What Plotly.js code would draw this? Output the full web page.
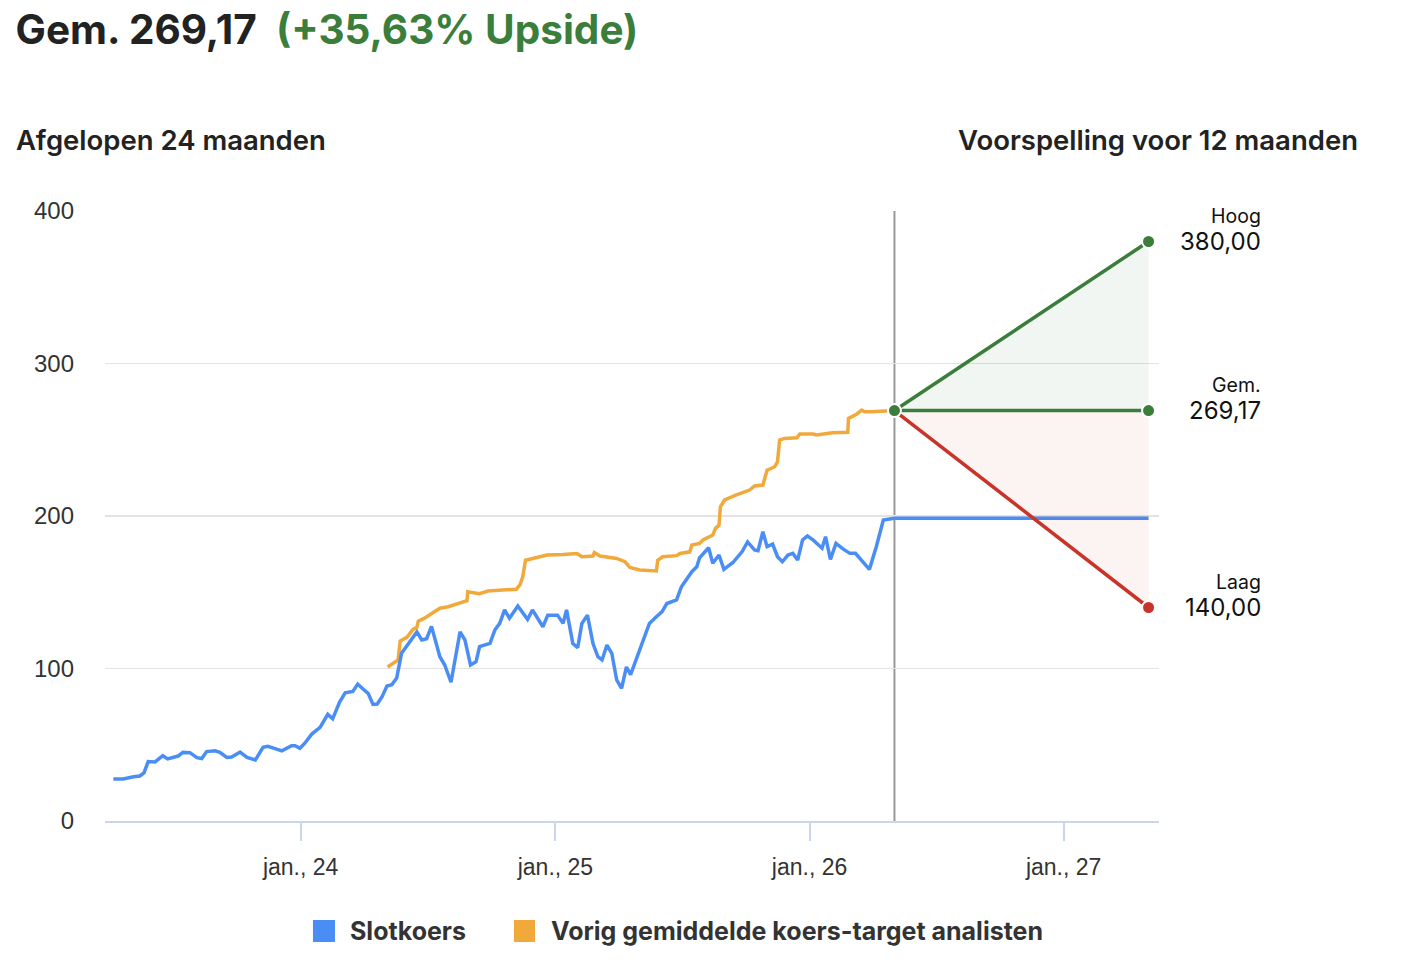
<!DOCTYPE html>
<html>
<head>
<meta charset="utf-8">
<script src="https://cdn.plot.ly/plotly-3.0.1.min.js"></script>
<style>
  html, body { margin: 0; padding: 0; background: #fff; }
  #chart { width: 1412px; height: 966px; }
</style>
</head>
<body>
<div id="chart"></div>
<script>
// closing price (Slotkoers), roughly weekly
var slotDates = [
  '2023-04-07','2023-04-21','2023-05-06','2023-05-15','2023-05-21','2023-05-27','2023-06-06','2023-06-10',
  '2023-06-17','2023-06-24','2023-07-02','2023-07-09','2023-07-16','2023-07-26','2023-08-05','2023-08-12',
  '2023-08-19','2023-08-31','2023-09-07','2023-09-17','2023-09-24','2023-10-06','2023-10-16','2023-10-28',
  '2023-11-08','2023-11-15','2023-11-22','2023-12-05','2023-12-19','2023-12-24','2023-12-31',
  '2024-01-07','2024-01-17','2024-01-29','2024-02-09','2024-02-16','2024-02-26','2024-03-05','2024-03-16',
  '2024-03-23','2024-03-31','2024-04-07','2024-04-14','2024-04-20','2024-04-27','2024-05-04','2024-05-11',
  '2024-05-18','2024-05-25','2024-06-03','2024-06-16','2024-06-23','2024-06-30','2024-07-07','2024-07-19',
  '2024-07-26','2024-08-04','2024-08-17','2024-08-24','2024-09-01','2024-09-09','2024-09-14','2024-09-24',
  '2024-09-29','2024-10-06','2024-10-13','2024-10-20','2024-10-27','2024-11-08','2024-11-22','2024-11-29',
  '2024-12-14','2024-12-21',
  '2025-01-04','2025-01-12','2025-01-17','2025-01-26','2025-02-02','2025-02-08','2025-02-16','2025-02-24',
  '2025-03-03','2025-03-09','2025-03-16','2025-03-23','2025-03-30','2025-04-06','2025-04-13','2025-04-19',
  '2025-04-28','2025-05-06','2025-05-16','2025-05-26','2025-06-03','2025-06-10','2025-06-18','2025-06-24',
  '2025-07-01','2025-07-09','2025-07-16','2025-07-23','2025-07-27','2025-08-09','2025-08-15','2025-08-24',
  '2025-08-31','2025-09-13','2025-09-26','2025-10-04','2025-10-14','2025-10-19','2025-10-26','2025-11-01',
  '2025-11-09','2025-11-16','2025-11-23','2025-12-01','2025-12-08','2025-12-15','2025-12-22','2025-12-29',
  '2026-01-06','2026-01-19','2026-01-24','2026-01-31','2026-02-08','2026-02-18','2026-02-28','2026-03-08',
  '2026-03-17','2026-03-28','2026-04-07','2026-04-17','2026-04-26','2026-05-03'
];
var slotPrices = [
  27.5, 27.5, 29, 29.5, 31.5, 39, 38.7, 40,
  42.8, 40.7, 42, 42.6, 45, 44.8, 41.5, 41,
  45.5, 46, 45, 41.7, 42, 45.2, 41.7, 40,
  48.3, 49, 48, 46, 49.4, 49.4, 47.7,
  51, 57, 61.4, 70, 67, 78, 84, 85,
  89.8, 86.4, 83.7, 76.5, 76.7, 81.5, 88.5, 89.3,
  93.8, 110, 115.4, 124, 118.7, 119.5, 127.6, 107.7,
  102.3, 91, 124, 118.7, 102.3, 104.5, 114.3, 116,
  116.5, 125.2, 129.6, 138.4, 132.9, 141, 132.2, 138.4,
  127.4, 135,
  135, 129.6, 138.4, 116.4, 113.6, 129.5, 135, 116.4,
  107.7, 105.6, 115.4, 110, 92.5, 87, 101, 96,
  107.7, 116.4, 129.5, 133.9, 137.2, 142.6, 143.8, 145,
  153.6, 159, 163.5, 166.7, 172.5, 179.2, 169, 174.4,
  165, 169.5, 176.5, 183, 177.7, 177.2, 189.7, 179.9,
  181.6, 173.3, 170, 174.4, 175.5, 171.1, 184.3, 186.9,
  184.3, 178.9, 186.4, 171.6, 182, 178.4, 175.5, 175.5,
  171, 165, 180, 197.4, 198, 198.46
];

// previous average analyst price target (Vorig gemiddelde koers-target analisten)
var targetDates = [
  '2024-05-05','2024-05-20','2024-05-23','2024-06-02','2024-06-10','2024-06-16','2024-06-18','2024-06-27',
  '2024-07-09','2024-07-19','2024-07-31','2024-08-09','2024-08-21','2024-08-27','2024-08-28','2024-09-14',
  '2024-09-26','2024-10-17','2024-11-06','2024-11-11','2024-11-15','2024-11-19','2024-11-29','2024-12-20',
  '2025-01-12','2025-02-01','2025-02-08','2025-02-24','2025-02-26','2025-03-06','2025-03-30','2025-04-11',
  '2025-04-18','2025-05-02','2025-05-26','2025-05-28','2025-06-04','2025-06-24','2025-06-29','2025-07-13',
  '2025-07-16','2025-07-27','2025-08-01','2025-08-15','2025-08-19','2025-08-24','2025-08-26','2025-09-01',
  '2025-09-18','2025-10-07','2025-10-14','2025-10-26','2025-11-01','2025-11-12','2025-11-16','2025-11-19',
  '2025-11-26','2025-12-14','2025-12-18','2026-01-06','2026-01-11','2026-02-03','2026-02-25','2026-02-26',
  '2026-03-10','2026-03-17','2026-03-21','2026-04-01','2026-04-26'
];
var targetPrices = [
  101, 105.6, 118, 120.6, 125.5, 127, 131, 133,
  136.5, 139.5, 140.5, 142, 144, 144.4, 150.3, 149,
  150.8, 151.5, 152, 154.8, 160, 171, 172.2, 174.4,
  174.8, 175.4, 173.3, 173.8, 176, 173.8, 172.2, 170,
  166.2, 164.6, 164, 171, 173.3, 174, 175.4, 176.5,
  181, 182, 184.3, 187.5, 191.9, 194, 206, 210.5,
  213.8, 217, 219.7, 220.3, 230, 232.3, 235.6, 249.8,
  250.9, 251.3, 253.8, 253.8, 253.1, 254.6, 254.9, 264,
  266.9, 269.5, 268.4, 268.4, 269
];

// 12 month forecast
var forecastStart = '2026-05-03';
var forecastEnd = '2027-05-03';
var forecastLabels = ['Hoog', 'Gem.', 'Laag'];
var forecastValues = [380, 269.17, 140];
var forecastText = ['380,00', '269,17', '140,00'];
var currentPrice = 198.46;

var tickDates = ['2024-01-01', '2025-01-01', '2026-01-01', '2027-01-01'];
var tickLabels = ['jan., 24', 'jan., 25', 'jan., 26', 'jan., 27'];

var legendNames = ['Slotkoers', 'Vorig gemiddelde koers-target analisten'];

var blue = '#4a8ef5';
var orange = '#f2a93b';
var green = '#3b7d3b';
var red = '#c9342a';
var font = 'Inter, "Liberation Sans", sans-serif';
var tickFont = '"Liberation Sans", Arial, sans-serif';

var avg = forecastValues[1];

var traces = [
  {
    x: targetDates, y: targetPrices, mode: 'lines', type: 'scatter',
    name: legendNames[1], line: {color: orange, width: 3.5}
  },
  {
    x: slotDates.concat([forecastEnd]), y: slotPrices.concat([currentPrice]),
    mode: 'lines', type: 'scatter', name: legendNames[0],
    line: {color: blue, width: 3.5}
  },
  // green band: average -> high
  {
    x: [forecastStart, forecastEnd], y: [avg, avg], mode: 'lines',
    line: {width: 0}, hoverinfo: 'skip'
  },
  {
    x: [forecastStart, forecastEnd], y: [avg, forecastValues[0]], mode: 'lines',
    fill: 'tonexty', fillcolor: 'rgba(59,125,59,0.065)',
    line: {color: green, width: 3.5}
  },
  // red band: average -> low
  {
    x: [forecastStart, forecastEnd], y: [avg, avg], mode: 'lines',
    line: {width: 0}, hoverinfo: 'skip'
  },
  {
    x: [forecastStart, forecastEnd], y: [avg, forecastValues[2]], mode: 'lines',
    fill: 'tonexty', fillcolor: 'rgba(201,52,42,0.055)',
    line: {color: red, width: 3.5}
  },
  {
    x: [forecastStart, forecastEnd], y: [avg, avg], mode: 'lines',
    line: {color: green, width: 3.5}
  },
  // end points
  {
    x: [forecastStart, forecastEnd, forecastEnd, forecastEnd],
    y: [avg, forecastValues[0], forecastValues[1], forecastValues[2]],
    mode: 'markers',
    marker: {size: 13, color: [green, green, green, red], line: {color: '#fff', width: 2}}
  }
];

var annotations = [
  {
    xref: 'paper', yref: 'paper', x: -0.0862, y: 1.1164, xanchor: 'left', yanchor: 'middle',
    text: 'Afgelopen 24 maanden', showarrow: false,
    font: {family: font, size: 27.5, color: '#222', weight: 600}
  },
  {
    xref: 'paper', yref: 'paper', x: 1.1907, y: 1.1164, xanchor: 'right', yanchor: 'middle',
    text: 'Voorspelling voor 12 maanden', showarrow: false,
    font: {family: font, size: 27.5, color: '#222', weight: 600}
  },
  // legend text
  {
    xref: 'paper', yref: 'paper', x: 0.2306, y: -0.1803, xanchor: 'left', yanchor: 'middle',
    text: legendNames[0], showarrow: false,
    font: {family: font, size: 25, color: '#333', weight: 700}
  },
  {
    xref: 'paper', yref: 'paper', x: 0.4213, y: -0.1803, xanchor: 'left', yanchor: 'middle',
    text: legendNames[1], showarrow: false,
    font: {family: font, size: 25, color: '#333', weight: 700}
  }
];
for (var i = 0; i < forecastLabels.length; i++) {
  annotations.push({
    x: forecastEnd, y: forecastValues[i], xanchor: 'right', yanchor: 'middle',
    xshift: 114, yshift: 0, text: forecastText[i], showarrow: false,
    font: {family: font, size: 24, color: '#111'}
  });
  annotations.push({
    x: forecastEnd, y: forecastValues[i], xanchor: 'right', yanchor: 'middle',
    xshift: 114, yshift: 26, text: forecastLabels[i], showarrow: false,
    font: {family: font, size: 19.5, color: '#111'}
  });
}

var layout = {
  width: 1412, height: 966,
  margin: {l: 105, r: 253, t: 211, b: 145},
  paper_bgcolor: '#fff', plot_bgcolor: '#fff',
  font: {family: font, color: '#333'},
  showlegend: false,
  title: {
    text: 'Gem. 269,17&nbsp;&nbsp;<span style="color:' + green + '">(+35,63% Upside)</span>',
    xref: 'container', yref: 'container', x: 0.011, xanchor: 'left', y: 0.969, yanchor: 'middle',
    font: {family: font, size: 40.5, color: '#222', weight: 700}
  },
  xaxis: {
    type: 'date', range: ['2023-03-26', '2027-05-18'],
    tickvals: tickDates, ticktext: tickLabels,
    showgrid: false, zeroline: false,
    showline: true, linecolor: '#ccd6eb', linewidth: 2,
    ticks: 'outside', ticklen: 18, tickcolor: '#ccd6eb', tickwidth: 2,
    ticklabelstandoff: 6,
    tickfont: {family: tickFont, size: 23, color: '#333'}
  },
  yaxis: {
    range: [0, 400], tickvals: [0, 100, 200, 300, 400],
    showgrid: true, gridcolor: '#e3e3e3', gridwidth: 1.5,
    zeroline: false, showline: false, ticks: '',
    ticklabelstandoff: 30,
    tickfont: {family: tickFont, size: 24, color: '#333'}
  },
  shapes: [
    {
      type: 'line', xref: 'x', yref: 'paper', x0: forecastStart, x1: forecastStart, y0: 0, y1: 1,
      line: {color: '#999', width: 2}, layer: 'below'
    },
    // legend swatches
    {
      type: 'rect', xref: 'paper', yref: 'paper', x0: 0.1973, x1: 0.2182, y0: -0.1984, y1: -0.1623,
      fillcolor: blue, line: {width: 0}
    },
    {
      type: 'rect', xref: 'paper', yref: 'paper', x0: 0.3880, x1: 0.4080, y0: -0.1984, y1: -0.1623,
      fillcolor: orange, line: {width: 0}
    }
  ],
  annotations: annotations
};

Plotly.newPlot('chart', traces, layout, {displayModeBar: false, staticPlot: true});
</script>
</body>
</html>
